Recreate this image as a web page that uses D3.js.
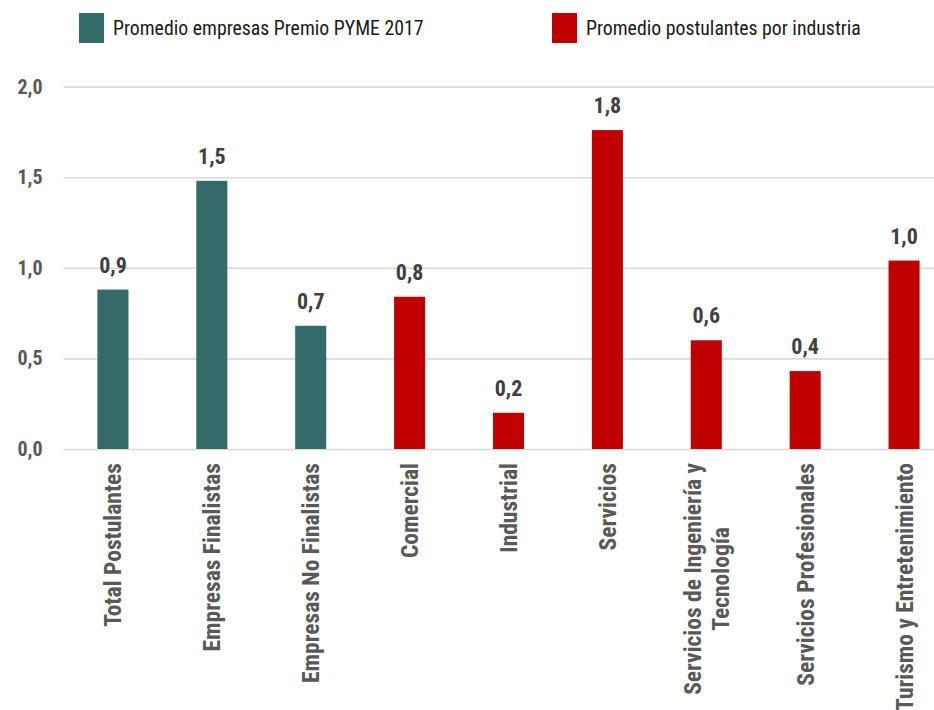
<!DOCTYPE html>
<html>
<head>
<meta charset="utf-8">
<script src="https://cdn.jsdelivr.net/npm/d3@7"></script>
<style>
  html, body { margin: 0; padding: 0; background: #ffffff; }
  svg { display: block; }
  text { font-family: "Liberation Sans Narrow", "Arial Narrow", "Roboto Condensed", sans-serif; }
</style>
</head>
<body>
<svg id="chart" width="934" height="710"></svg>
<script>
// Average per category; first three are the contest-wide groups, the rest are industries
const categories = [
  "Total Postulantes",
  "Empresas Finalistas",
  "Empresas No Finalistas",
  "Comercial",
  "Industrial",
  "Servicios",
  "Servicios de Ingeniería y|Tecnología",
  "Servicios Profesionales",
  "Turismo y Entretenimiento"
];
const values = [0.88, 1.48, 0.68, 0.84, 0.20, 1.76, 0.60, 0.43, 1.04];
const seriesIndex = [0, 0, 0, 1, 1, 1, 1, 1, 1];
const seriesNames = ["Promedio empresas Premio PYME 2017", "Promedio postulantes por industria"];
const seriesColors = ["#346B69", "#C00000"];
const yTicks = [0, 0.5, 1.0, 1.5, 2.0];

const W = 934, H = 710;
const plot = { left: 63.5, right: 953.5, top: 86.6, bottom: 449 };

const locale = d3.formatLocale({ decimal: ",", thousands: ".", grouping: [3], currency: ["$", ""] });
const fmt = locale.format(".1f");

const svg = d3.select("#chart");

const x = d3.scaleBand()
  .domain(categories)
  .range([plot.left, plot.right])
  .paddingInner(0.686)
  .paddingOuter(0.343);

const y = d3.scaleLinear()
  .domain([0, 2])
  .range([plot.bottom, plot.top]);

// Gridlines and value axis
const yAxis = svg.append("g")
  .attr("transform", `translate(${plot.left},0)`)
  .call(d3.axisLeft(y)
    .tickValues(yTicks)
    .tickFormat(fmt)
    .tickSize(-(W - plot.left))
    .tickPadding(21));
yAxis.select(".domain").remove();
yAxis.selectAll(".tick line")
  .attr("stroke", "#D9D9D9")
  .attr("stroke-width", 1.6);
yAxis.selectAll(".tick text")
  .attr("fill", "#595959")
  .attr("font-size", 20)
  .attr("font-weight", "bold")
  .attr("font-family", "'Liberation Sans Narrow', 'Arial Narrow', 'Roboto Condensed', sans-serif");

// Bars
svg.append("g").selectAll("rect")
  .data(categories)
  .join("rect")
  .attr("x", (d) => x(d))
  .attr("width", x.bandwidth())
  .attr("y", (d, i) => y(values[i]))
  .attr("height", (d, i) => y(0) - y(values[i]))
  .attr("fill", (d, i) => seriesColors[seriesIndex[i]]);

// Value labels above bars
svg.append("g").selectAll("text")
  .data(categories)
  .join("text")
  .attr("x", (d) => x(d) + x.bandwidth() / 2)
  .attr("y", (d, i) => y(values[i]) - 17)
  .attr("text-anchor", "middle")
  .attr("fill", "#404040")
  .attr("font-size", 22)
  .attr("font-weight", "bold")
  .text((d, i) => fmt(values[i]));

// Rotated category labels, top-aligned under the axis
const catG = svg.append("g");
const labelTop = 463;
const lineGap = 28;
categories.forEach((c) => {
  const lines = c.split("|");
  const cx = x(c) + x.bandwidth() / 2;
  const g = catG.append("g");
  const texts = lines.map((ln, k) => {
    const off = (k - (lines.length - 1) / 2) * lineGap;
    return g.append("text")
      .attr("fill", "#595959")
      .attr("font-size", 23.5)
      .attr("font-weight", "bold")
      .attr("text-anchor", "middle")
      .attr("dy", "0.36em")
      .attr("data-off", off)
      .text(ln);
  });
  const maxLen = d3.max(texts, (t) => t.node().getComputedTextLength());
  texts.forEach((t) => {
    const off = +t.attr("data-off");
    t.attr("transform", `translate(${cx + off},${labelTop + maxLen / 2}) rotate(-90)`);
  });
});

// Legend
const legend = svg.append("g");
const legendItems = [
  { x: 79, name: seriesNames[0], color: seriesColors[0] },
  { x: 552, name: seriesNames[1], color: seriesColors[1] }
];
legendItems.forEach((it) => {
  legend.append("rect")
    .attr("x", it.x).attr("y", 13)
    .attr("width", 25).attr("height", 30)
    .attr("fill", it.color);
  legend.append("text")
    .attr("x", it.x + 34).attr("y", 28)
    .attr("dy", "0.36em")
    .attr("fill", "#1A1A1A")
    .attr("font-size", 19.8)
    .text(it.name);
});
</script>
</body>
</html>
